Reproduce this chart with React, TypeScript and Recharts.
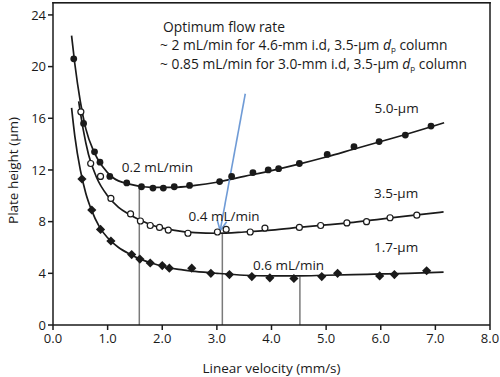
import React from "react"
import {
  ComposedChart,
  Line,
  Scatter,
  XAxis,
  YAxis,
  ReferenceLine,
  ReferenceDot,
} from "recharts"

// measured points
const points50 = [
  { x: 0.38, y: 20.6 }, { x: 0.56, y: 15.6 }, { x: 0.76, y: 13.4 }, { x: 0.86, y: 12.6 },
  { x: 1.04, y: 11.5 }, { x: 1.35, y: 11.0 }, { x: 1.62, y: 10.7 }, { x: 1.83, y: 10.6 },
  { x: 2.02, y: 10.6 }, { x: 2.22, y: 10.7 }, { x: 2.5, y: 10.8 }, { x: 3.05, y: 11.1 },
  { x: 3.27, y: 11.5 }, { x: 3.66, y: 11.8 }, { x: 3.94, y: 12.0 }, { x: 4.13, y: 12.1 },
  { x: 4.51, y: 12.5 }, { x: 5.02, y: 13.2 }, { x: 5.51, y: 13.8 }, { x: 5.97, y: 14.2 },
  { x: 6.45, y: 14.7 }, { x: 6.92, y: 15.4 },
]
const points35 = [
  { x: 0.51, y: 16.5 }, { x: 0.69, y: 12.5 }, { x: 0.87, y: 11.5 }, { x: 1.06, y: 9.8 },
  { x: 1.42, y: 8.6 }, { x: 1.6, y: 8.05 }, { x: 1.78, y: 7.7 }, { x: 1.95, y: 7.55 },
  { x: 2.11, y: 7.35 }, { x: 2.47, y: 7.1 }, { x: 3.01, y: 7.2 }, { x: 3.17, y: 7.4 },
  { x: 3.61, y: 7.2 }, { x: 3.88, y: 7.5 }, { x: 4.51, y: 7.55 }, { x: 4.9, y: 7.7 },
  { x: 5.38, y: 7.9 }, { x: 5.74, y: 8.0 }, { x: 6.17, y: 8.3 }, { x: 6.66, y: 8.5 },
]
const points17 = [
  { x: 0.53, y: 11.3 }, { x: 0.71, y: 8.9 }, { x: 0.87, y: 7.4 }, { x: 1.06, y: 6.5 },
  { x: 1.44, y: 5.45 }, { x: 1.59, y: 5.1 }, { x: 1.78, y: 4.8 }, { x: 2.0, y: 4.6 },
  { x: 2.13, y: 4.4 }, { x: 2.54, y: 4.4 }, { x: 2.89, y: 4.0 }, { x: 3.23, y: 3.9 },
  { x: 3.64, y: 3.75 }, { x: 3.97, y: 3.65 }, { x: 4.41, y: 3.6 }, { x: 4.92, y: 3.75 },
  { x: 5.21, y: 4.0 }, { x: 5.98, y: 3.8 }, { x: 6.25, y: 3.9 }, { x: 6.84, y: 4.2 },
]

// fitted curves
const curve50 = [
  { x: 0.34, y: 22.4 }, { x: 0.4, y: 20.2 }, { x: 0.5, y: 17.3 }, { x: 0.6, y: 15.2 },
  { x: 0.75, y: 13.4 }, { x: 0.9, y: 12.3 }, { x: 1.1, y: 11.4 }, { x: 1.4, y: 10.9 },
  { x: 1.8, y: 10.65 }, { x: 2.2, y: 10.65 }, { x: 2.6, y: 10.8 }, { x: 3.0, y: 11.05 },
  { x: 3.5, y: 11.5 }, { x: 4.0, y: 11.95 }, { x: 4.5, y: 12.45 }, { x: 5.0, y: 13.0 },
  { x: 5.5, y: 13.6 }, { x: 6.0, y: 14.2 }, { x: 6.5, y: 14.8 }, { x: 7.16, y: 15.65 },
]
const curve35 = [
  { x: 0.47, y: 17.3 }, { x: 0.55, y: 15.2 }, { x: 0.65, y: 13.2 }, { x: 0.8, y: 11.4 },
  { x: 1.0, y: 10.0 }, { x: 1.2, y: 9.1 }, { x: 1.4, y: 8.55 }, { x: 1.6, y: 8.1 },
  { x: 1.9, y: 7.6 }, { x: 2.2, y: 7.35 }, { x: 2.6, y: 7.15 }, { x: 3.0, y: 7.1 },
  { x: 3.5, y: 7.2 }, { x: 4.0, y: 7.35 }, { x: 4.5, y: 7.55 }, { x: 5.0, y: 7.75 },
  { x: 5.5, y: 7.95 }, { x: 6.0, y: 8.2 }, { x: 6.5, y: 8.45 }, { x: 7.15, y: 8.75 },
]
const curve17 = [
  { x: 0.34, y: 16.8 }, { x: 0.4, y: 14.6 }, { x: 0.5, y: 12.0 }, { x: 0.6, y: 10.2 },
  { x: 0.7, y: 8.95 }, { x: 0.85, y: 7.6 }, { x: 1.0, y: 6.75 }, { x: 1.2, y: 6.0 },
  { x: 1.4, y: 5.5 }, { x: 1.6, y: 5.1 }, { x: 1.8, y: 4.8 }, { x: 2.0, y: 4.55 },
  { x: 2.3, y: 4.3 }, { x: 2.6, y: 4.15 }, { x: 3.0, y: 4.0 }, { x: 3.5, y: 3.85 },
  { x: 4.0, y: 3.8 }, { x: 4.5, y: 3.8 }, { x: 5.0, y: 3.85 }, { x: 5.5, y: 3.9 },
  { x: 6.0, y: 3.95 }, { x: 6.5, y: 4.0 }, { x: 7.15, y: 4.1 },
]

// optimum velocities (drop lines)
const optima = [
  { x: 1.58, y: 10.65 },
  { x: 3.1, y: 7.1 },
  { x: 4.52, y: 3.75 },
]

const xTicks = [0, 1, 2, 3, 4, 5, 6, 7, 8]
const yTicks = [0, 4, 8, 12, 16, 20, 24]

const font = "'Open Sans', sans-serif"
const ink = "#1a1a1a"

const FilledDot = (p: any) => <circle cx={p.cx} cy={p.cy} r={3.4} fill={ink} />
const OpenDot = (p: any) => (
  <circle cx={p.cx} cy={p.cy} r={3} fill="#fff" stroke={ink} strokeWidth={1.2} />
)
const Diamond = (p: any) => {
  const s = 4.6
  return (
    <polygon
      points={`${p.cx},${p.cy - s} ${p.cx + s},${p.cy} ${p.cx},${p.cy + s} ${p.cx - s},${p.cy}`}
      fill={ink}
    />
  )
}

const Arrow = (p: any) => {
  const { x1, y1, x2, y2 } = p
  const ang = Math.atan2(y2 - y1, x2 - x1)
  const len = 11
  const spread = 0.45
  const a1x = x2 - len * Math.cos(ang - spread)
  const a1y = y2 - len * Math.sin(ang - spread)
  const a2x = x2 - len * Math.cos(ang + spread)
  const a2y = y2 - len * Math.sin(ang + spread)
  return (
    <g stroke="#6f9bd6" strokeWidth={1.6} fill="none">
      <line x1={x1} y1={y1} x2={x2} y2={y2} />
      <path d={`M${a1x},${a1y} L${x2},${y2} L${a2x},${a2y}`} />
    </g>
  )
}

// top edge of the frame, drawn as a plain rect just inside the plot top
const FrameTop = (p: any) => (
  <rect
    x={Math.min(p.x1, p.x2) - 0.75}
    y={p.y1}
    width={Math.abs(p.x2 - p.x1) + 1.5}
    height={1.6}
    fill={ink}
  />
)

const note = (text: string, anchor: "start" | "middle" = "start") => ({
  content: ({ viewBox }: any) => (
    <text
      x={viewBox.x}
      y={viewBox.y}
      textAnchor={anchor}
      dominantBaseline="central"
      fontFamily={font}
      fontSize={13.5}
      fill={ink}
    >
      {text}
    </text>
  ),
})

const Dp = () => (
  <>
    <tspan fontStyle="italic">d</tspan>
    <tspan fontSize={8} dy={4}>p</tspan>
    <tspan dy={-4}> column</tspan>
  </>
)

const titleNote = {
  content: ({ viewBox }: any) => (
    <text x={viewBox.x} y={viewBox.y} fontFamily={font} fontSize={13.8} fill={ink} dominantBaseline="central">
      <tspan x={viewBox.x + 3}>Optimum flow rate</tspan>
      <tspan x={viewBox.x} dy={18.5}>~ 2 mL/min for 4.6-mm i.d, 3.5-µm </tspan>
      <Dp />
      <tspan x={viewBox.x} dy={18.5}>~ 0.85 mL/min for 3.0-mm i.d, 3.5-µm </tspan>
      <Dp />
    </text>
  ),
}

export default function App() {
  return (
    <div style={{ position: "absolute", left: 0, top: 0, background: "#fff" }}>
      <ComposedChart
        width={500}
        height={377}
        margin={{ top: 2, right: 10, bottom: 22, left: 0 }}
      >
        <XAxis
          type="number"
          dataKey="x"
          domain={[0, 8]}
          ticks={xTicks}
          tickFormatter={(v) => v.toFixed(1)}
          tickSize={5}
          tickMargin={4}
          height={30}
          stroke={ink}
          strokeWidth={1.5}
          tick={{ fill: ink, fontSize: 13, fontFamily: font }}
          label={{
            content: ({ viewBox }: any) => (
              <text
                x={viewBox.x + viewBox.width / 2}
                y={viewBox.y + 43}
                textAnchor="middle"
                dominantBaseline="central"
                fontFamily={font}
                fontSize={13.5}
                fill={ink}
              >
                Linear velocity (mm/s)
              </text>
            ),
          }}
        />
        <YAxis
          type="number"
          domain={[0, 25]}
          ticks={yTicks}
          width={53}
          tickSize={5}
          stroke={ink}
          strokeWidth={1.5}
          tick={{ fill: ink, fontSize: 13, fontFamily: font }}
          label={{
            content: ({ viewBox }: any) => {
              const cx = 13
              const cy = viewBox.y + viewBox.height / 2 + 7
              return (
                <text
                  x={cx}
                  y={cy}
                  transform={`rotate(-90 ${cx} ${cy})`}
                  textAnchor="middle"
                  dominantBaseline="central"
                  fontFamily={font}
                  fontSize={13.5}
                  fill={ink}
                >
                  Plate height (µm)
                </text>
              )
            },
          }}
        />
        {/* plot frame */}
        <ReferenceLine
          segment={[{ x: 0, y: 25 }, { x: 8, y: 25 }]}
          shape={FrameTop}
          ifOverflow="visible"
        />
        <ReferenceLine x={8} stroke={ink} strokeWidth={1.5} ifOverflow="visible" />

        {optima.map((o, i) => (
          <ReferenceLine
            key={i}
            segment={[{ x: o.x, y: 0 }, { x: o.x, y: o.y }]}
            stroke="#7a7a7a"
            strokeWidth={1.5}
          />
        ))}

        <Line data={curve50} dataKey="y" type="monotone" stroke={ink} strokeWidth={1.7} dot={false} isAnimationActive={false} />
        <Line data={curve35} dataKey="y" type="monotone" stroke={ink} strokeWidth={1.7} dot={false} isAnimationActive={false} />
        <Line data={curve17} dataKey="y" type="monotone" stroke={ink} strokeWidth={1.7} dot={false} isAnimationActive={false} />

        <Scatter data={points50} dataKey="y" shape={FilledDot} isAnimationActive={false} />
        <Scatter data={points35} dataKey="y" shape={OpenDot} isAnimationActive={false} />
        <Scatter data={points17} dataKey="y" shape={Diamond} isAnimationActive={false} />

        <ReferenceLine
          segment={[{ x: 3.52, y: 17.9 }, { x: 3.06, y: 7.3 }]}
          shape={Arrow}
        />

        <ReferenceDot x={1.96} y={23.15} r={0} label={titleNote} />
        <ReferenceDot x={6.29} y={16.8} r={0} label={note("5.0-µm", "middle")} />
        <ReferenceDot x={6.28} y={10.18} r={0} label={note("3.5-µm", "middle")} />
        <ReferenceDot x={6.28} y={6.02} r={0} label={note("1.7-µm", "middle")} />
        <ReferenceDot x={1.26} y={12.25} r={0} label={note("0.2 mL/min")} />
        <ReferenceDot x={2.48} y={8.41} r={0} label={note("0.4 mL/min")} />
        <ReferenceDot x={3.66} y={4.67} r={0} label={note("0.6 mL/min")} />
      </ComposedChart>
    </div>
  )
}
